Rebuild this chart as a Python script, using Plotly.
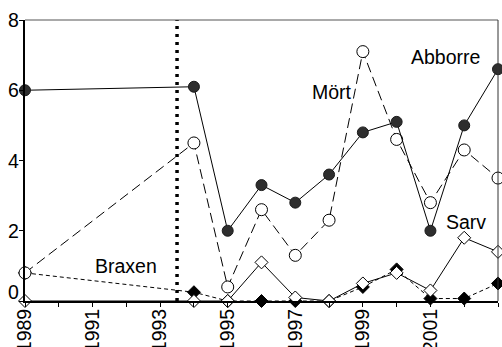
import plotly.graph_objects as go

years = list(range(1989, 2004))
x_years = [1989, 1994, 1995, 1996, 1997, 1998, 1999, 2000, 2001, 2002, 2003]

abborre = [6.0, 6.1, 2.0, 3.3, 2.8, 3.6, 4.8, 5.1, 2.0, 5.0, 6.6]
mort = [0.8, 4.5, 0.4, 2.6, 1.3, 2.3, 7.1, 4.6, 2.8, 4.3, 3.5]
braxen = [0.8, 0.25, 0.0, 0.0, 0.0, 0.0, 0.4, 0.9, 0.07, 0.07, 0.5]
sarv = [0.0, 0.0, 0.0, 1.1, 0.1, 0.0, 0.5, 0.8, 0.3, 1.8, 1.4]

x_tick_labels = [str(y) if y % 2 == 1 else "" for y in years]
y_ticks = [0, 2, 4, 6, 8]
y_tick_labels = ["0", "2", "4", "6", "8"]

series_labels = ["Abborre", "Mört", "Sarv", "Braxen"]
label_pos = [(2001.45, 6.95), (1998.1, 5.95), (2002.05, 2.25), (1992.0, 0.99)]

divider_year = 1993.5
title_text = "Antal per enhet ansträngning"

FONT = "Liberation Sans, Arial, Helvetica, sans-serif"
FS = 19.5

fig = go.Figure()

fig.add_trace(go.Scatter(
    x=x_years, y=braxen, mode="lines+markers", cliponaxis=False,
    line=dict(color="black", width=1, dash="4px,3px"),
    marker=dict(symbol="diamond", size=10, color="black", line=dict(color="black", width=1)),
    name="Braxen"))
fig.add_trace(go.Scatter(
    x=x_years, y=sarv, mode="lines+markers", cliponaxis=False,
    line=dict(color="black", width=1),
    marker=dict(symbol="diamond", size=10, color="white", line=dict(color="black", width=1)),
    name="Sarv"))
fig.add_trace(go.Scatter(
    x=x_years, y=mort, mode="lines+markers", cliponaxis=False,
    line=dict(color="black", width=1, dash="10px,5px"),
    marker=dict(symbol="circle", size=12, color="white", line=dict(color="black", width=1)),
    name="Mört"))
fig.add_trace(go.Scatter(
    x=x_years, y=abborre, mode="lines+markers", cliponaxis=False,
    line=dict(color="black", width=1),
    marker=dict(symbol="circle", size=11, color="#2e2e2e", line=dict(color="#1a1a1a", width=1)),
    name="Abborre"))

fig.add_shape(type="line", x0=divider_year, x1=divider_year, y0=0, y1=8,
              xref="x", yref="y", line=dict(color="black", width=3.5, dash="3px,5px"))

# thin frame on top and right
fig.add_shape(type="line", x0=0, x1=1, y0=1, y1=1, xref="paper", yref="paper",
              line=dict(color="#555", width=1))
fig.add_shape(type="line", x0=1, x1=1, y0=0, y1=1, xref="paper", yref="paper",
              line=dict(color="#333", width=1))

for txt, (lx, ly) in zip(series_labels, label_pos):
    fig.add_annotation(x=lx, y=ly, text=txt, showarrow=False,
                       font=dict(family=FONT, size=FS, color="black"))

# y tick labels (the 0 label sits a little higher, clear of the x labels)
for v, t in zip(y_ticks, y_tick_labels):
    fig.add_annotation(xref="paper", yref="y", x=0, y=v, xanchor="right", yanchor="middle",
                       xshift=-4, yshift=(9 if v == 0 else 0), text=t, showarrow=False,
                       font=dict(family=FONT, size=FS, color="black"))

fig.add_annotation(xref="paper", yref="paper", x=0.015, y=1, xanchor="left", yanchor="bottom",
                   yshift=20, text=title_text, showarrow=False,
                   font=dict(family=FONT, size=18, color="black"))

fig.update_layout(
    width=502, height=347,
    margin=dict(l=25, r=4, t=20, b=46, autoexpand=False),
    paper_bgcolor="white", plot_bgcolor="white",
    showlegend=False,
    font=dict(family=FONT, size=FS, color="black"),
    xaxis=dict(range=[1989, 2003], tickmode="array", tickvals=years, ticktext=x_tick_labels,
               tickangle=-90, ticks="outside", ticklen=4, tickwidth=1, tickcolor="black",
               showgrid=False, zeroline=False, showline=True, linecolor="black", linewidth=2,
               automargin=False, ticklabelstandoff=-6,
               tickfont=dict(family=FONT, size=FS, color="black")),
    yaxis=dict(range=[0, 8], tickmode="array", tickvals=y_ticks, showticklabels=False,
               ticks="outside", ticklen=4, tickwidth=1, tickcolor="black",
               showgrid=False, zeroline=False, showline=True, linecolor="black", linewidth=2,
               automargin=False),
)

fig.write_html("out.html", config={"displayModeBar": False},
               post_script="document.body.style.margin='0';document.body.style.overflow='hidden';")
